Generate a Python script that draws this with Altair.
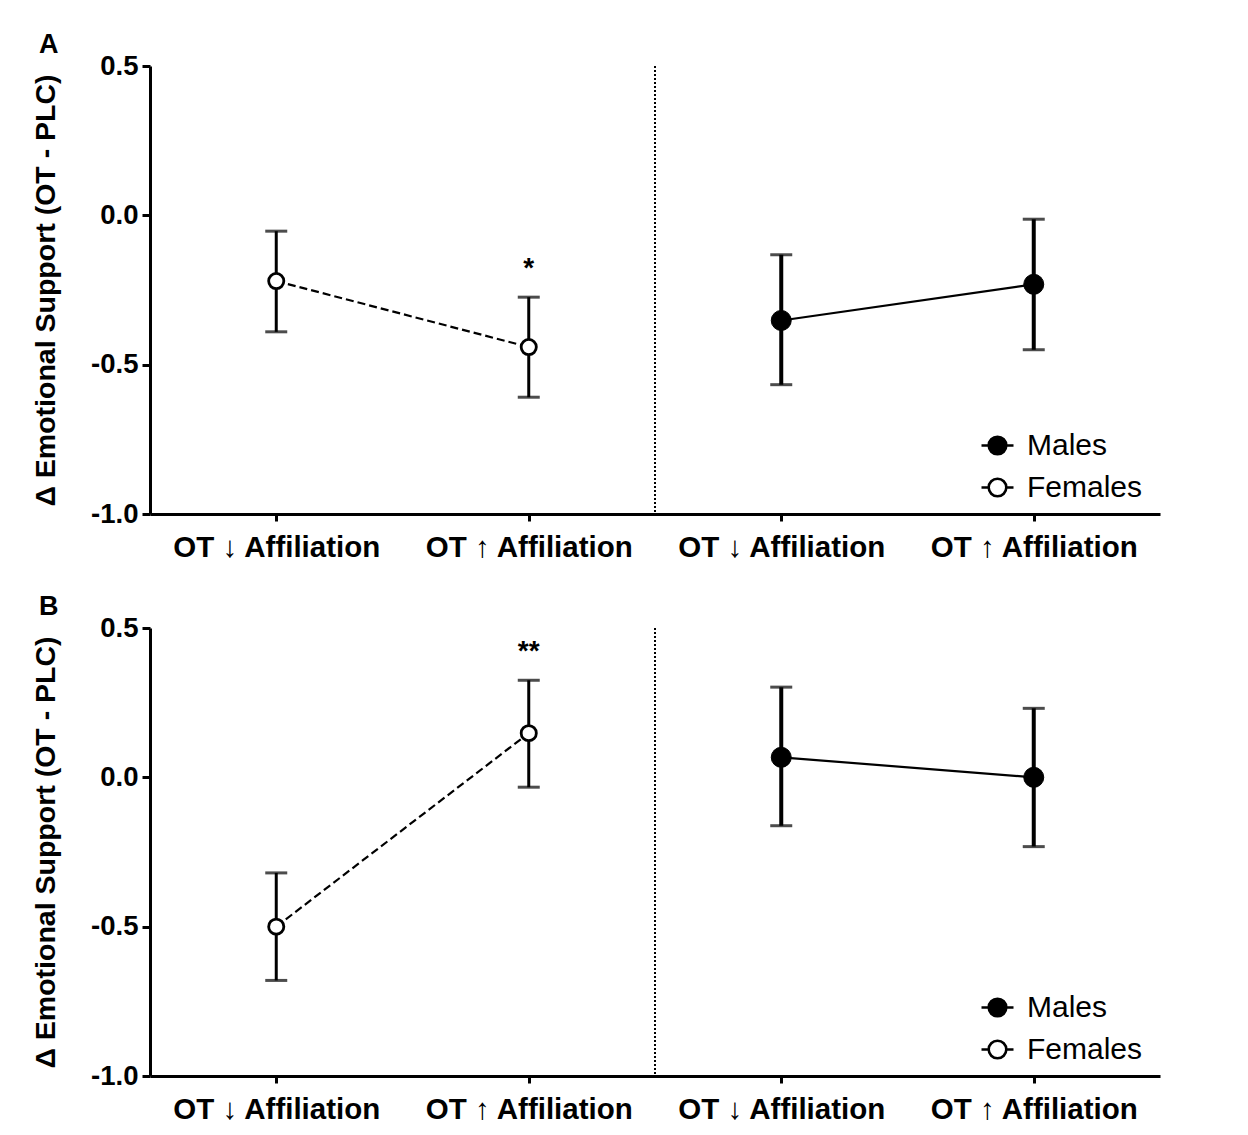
import altair as alt
import pandas as pd

positions = [1, 2, 3, 4]
groups = ["Females", "Females", "Males", "Males"]
tick_labels = ["OT ↓ Affiliation", "OT ↑ Affiliation", "OT ↓ Affiliation", "OT ↑ Affiliation"]

a_mean = [-0.220, -0.441, -0.352, -0.231]
a_upper = [-0.053, -0.274, -0.132, -0.013]
a_lower = [-0.390, -0.609, -0.567, -0.450]
a_sig = ["", "*", "", ""]

b_mean = [-0.500, 0.148, 0.067, 0.000]
b_upper = [-0.320, 0.325, 0.302, 0.231]
b_lower = [-0.680, -0.033, -0.162, -0.232]
b_sig = ["", "**", "", ""]

divider = [2.5]
y_ticks = [-1.0, -0.5, 0.0, 0.5]

FONT = "Liberation Sans"
label_arr = "[" + ",".join("'" + t + "'" for t in tick_labels) + "]"

LEG_PATH = ("M -1 0 L -0.55 0 M 0.55 0 L 1 0 "
            "M -0.55 0 A 0.55 0.55 0 1 0 0.55 0 A 0.55 0.55 0 1 0 -0.55 0 Z")


def panel(letter, mean, upper, lower, sig):
    df = pd.DataFrame({"x": positions, "group": groups, "mean": mean,
                       "upper": upper, "lower": lower, "sig": sig})
    base = alt.Chart(df)
    xs = alt.X("x:Q", scale=alt.Scale(domain=[0.5, 4.5], nice=False, zero=False),
               axis=alt.Axis(values=positions, labelExpr=label_arr + "[datum.value-1]",
                             title=None, grid=False, labelFontSize=29.5, labelFont=FONT,
                             labelFontWeight="bold", labelColor="black", labelPadding=12,
                             labelLimit=0,
                             domainColor="black", domainWidth=3, tickColor="black",
                             tickWidth=3, tickSize=7))
    ys = alt.Y("mean:Q", scale=alt.Scale(domain=[-1.0, 0.5], nice=False, zero=False),
               axis=alt.Axis(values=y_ticks,
                             labelExpr="replace(format(datum.value, '.1f'), '\u2212', '-')",
                             title="Δ Emotional Support (OT - PLC)", titleFont=FONT,
                             titleFontSize=28.5, titleFontWeight="bold", titleColor="black",
                             titlePadding=30, grid=False, labelFontSize=27.5, labelFont=FONT,
                             labelFontWeight="bold", labelColor="black", labelPadding=4,
                             domainColor="black", domainWidth=3, tickColor="black",
                             tickWidth=3, tickSize=8))

    sw = alt.condition(alt.datum.group == "Males", alt.value(4), alt.value(3))
    bars = base.mark_rule(color="black").encode(x=xs, y=alt.Y("upper:Q"), y2="lower:Q",
                                                strokeWidth=sw)
    caps_up = base.mark_tick(color="black", size=22, thickness=3, orient="horizontal").encode(
        x=xs, y=alt.Y("upper:Q"))
    caps_lo = base.mark_tick(color="black", size=22, thickness=3, orient="horizontal").encode(
        x=xs, y=alt.Y("lower:Q"))
    fem_line = base.transform_filter(alt.datum.group == "Females").mark_line(
        color="black", strokeWidth=2.2, strokeDash=[8, 4]).encode(x=xs, y=ys)
    male_line = base.transform_filter(alt.datum.group == "Males").mark_line(
        color="black", strokeWidth=2.2).encode(x=xs, y=ys)
    pts = base.mark_point(filled=False, shape="circle", stroke="black", opacity=1).encode(
        x=xs, y=ys,
        fill=alt.Fill("group:N",
                      scale=alt.Scale(domain=["Males", "Females"], range=["black", "white"]),
                      legend=alt.Legend(title=None, orient="none", legendX=830, legendY=362,
                                        symbolType=LEG_PATH, symbolSize=1024,
                                        symbolStrokeColor="black", symbolStrokeWidth=2.6,
                                        labelFontSize=30, labelFont=FONT, labelColor="black",
                                        labelOffset=12, rowPadding=9, labelLimit=0)),
        size=alt.condition(alt.datum.group == "Males", alt.value(400), alt.value(230)),
        strokeWidth=alt.condition(alt.datum.group == "Males", alt.value(1), alt.value(2.8)),
    )
    stars = base.mark_text(fontSize=28, font=FONT, fontWeight="bold", color="black",
                           dy=-28).encode(x=xs, y=alt.Y("upper:Q"), text="sig:N")
    div = alt.Chart(pd.DataFrame({"d": divider})).mark_rule(
        color="black", strokeWidth=2, strokeDash=[2, 2]).encode(
        x=alt.X("d:Q"), y=alt.value(0), y2=alt.value(448))

    return alt.layer(div, bars, caps_up, caps_lo, fem_line, male_line, pts, stars).properties(
        width=1010, height=448,
        title=alt.Title(letter, anchor="start", frame="group", dx=-111, offset=-7,
                        fontSize=27, font=FONT, fontWeight="bold", color="black"))


chart = alt.vconcat(
    panel("A", a_mean, a_upper, a_lower, a_sig),
    panel("B", b_mean, b_upper, b_lower, b_sig),
    spacing=31,
).resolve_legend(fill="independent").resolve_scale(fill="independent").properties(
    padding={"left": 31, "top": 31, "right": 5, "bottom": 5}, background="white"
).configure_view(stroke=None, strokeWidth=0)

chart.save("out.html", embed_options={"renderer": "svg", "actions": False})
